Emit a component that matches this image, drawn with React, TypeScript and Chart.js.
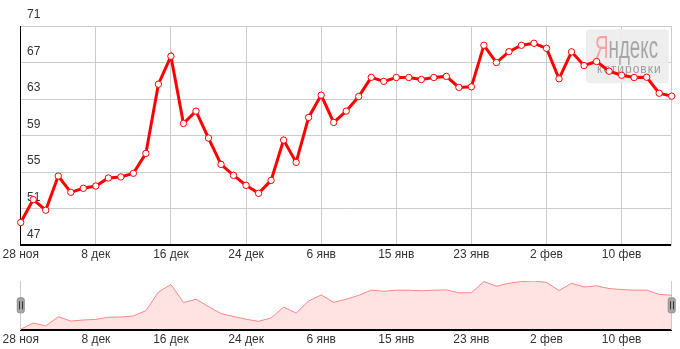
import React, { useEffect, useRef } from 'react';
import { Chart, registerables } from 'chart.js';

Chart.register(...registerables);

// ---- data ----
const tickLabels = ['28 ноя', '8 дек', '16 дек', '24 дек', '6 янв', '15 янв', '23 янв', '2 фев', '10 фев'];
const tickEvery = 6;
const usdRub = [
  49.48, 51.99, 50.83, 54.57, 52.79, 53.23, 53.48, 54.36, 54.47, 54.87,
  57.05, 64.63, 67.69, 60.33, 61.68, 58.73, 55.85, 54.65, 53.56, 52.68,
  54.10, 58.51, 56.07, 60.99, 63.43, 60.44, 61.68, 63.28, 65.38, 64.94,
  65.36, 65.36, 65.14, 65.36, 65.48, 64.28, 64.34, 68.89, 67.00, 68.19,
  68.89, 69.11, 68.56, 65.22, 68.17, 66.67, 67.11, 66.05, 65.61, 65.36,
  65.39, 63.64, 63.32,
];
const yMin = 47;
const yMax = 71;
const yStep = 4;
const brandFirst = 'Я';
const brandRest = 'ндекс';
const brandSub = 'котировки';

const categories = usdRub.map((_, i) => (i % tickEvery === 0 ? tickLabels[i / tickEvery] ?? '' : ''));

const FONT = '"Liberation Sans", Arial, sans-serif';
Chart.defaults.font.family = FONT;
Chart.defaults.color = '#333';

function roundRect(ctx: CanvasRenderingContext2D, x: number, y: number, w: number, h: number, r: number) {
  ctx.beginPath();
  ctx.moveTo(x + r, y);
  ctx.lineTo(x + w - r, y);
  ctx.arcTo(x + w, y, x + w, y + r, r);
  ctx.lineTo(x + w, y + h - r);
  ctx.arcTo(x + w, y + h, x + w - r, y + h, r);
  ctx.lineTo(x + r, y + h);
  ctx.arcTo(x, y + h, x, y + h - r, r);
  ctx.lineTo(x, y + r);
  ctx.arcTo(x, y, x + r, y, r);
  ctx.closePath();
}

const watermark = {
  id: 'watermark',
  beforeDatasetsDraw(chart: any) {
    const { ctx, chartArea } = chart;
    const bx = chartArea.right - 85.7;
    const by = chartArea.top + 3.3;
    const bw = 82.7;
    const bh = 54;
    ctx.save();
    ctx.fillStyle = 'rgba(236,236,236,0.9)';
    roundRect(ctx, bx, by, bw, bh, 4);
    ctx.fill();
    // Яндекс (condensed)
    ctx.font = `31px ${FONT}`;
    ctx.textBaseline = 'alphabetic';
    const full = ctx.measureText(brandFirst + brandRest).width;
    const sx = 63 / full;
    const tx = bx + 9;
    const ty = by + 28.7;
    ctx.translate(tx, ty);
    ctx.scale(sx, 1);
    ctx.fillStyle = '#f6a3a3';
    ctx.fillText(brandFirst, 0, 0);
    const w1 = ctx.measureText(brandFirst).width;
    ctx.fillStyle = '#a6a6a6';
    ctx.fillText(brandRest, w1, 0);
    ctx.restore();
    // котировки
    ctx.save();
    ctx.font = `12px ${FONT}`;
    (ctx as any).letterSpacing = '1px';
    ctx.fillStyle = '#9c9c9c';
    ctx.textBaseline = 'alphabetic';
    ctx.fillText(brandSub, bx + 11, by + 43.3);
    ctx.restore();
  },
};

const handles = {
  id: 'handles',
  afterDraw(chart: any) {
    const { ctx, chartArea } = chart;
    const cy = (chartArea.top + chartArea.bottom) / 2;
    [chartArea.left, chartArea.right].forEach((cx: number) => {
      ctx.save();
      ctx.fillStyle = '#a7a7a7';
      ctx.strokeStyle = '#8e8e8e';
      ctx.lineWidth = 1;
      roundRect(ctx, cx - 3.5, cy - 7.5, 7, 15, 2);
      ctx.fill();
      ctx.stroke();
      ctx.strokeStyle = '#333';
      ctx.beginPath();
      ctx.moveTo(Math.round(cx) - 1.5, cy - 4);
      ctx.lineTo(Math.round(cx) - 1.5, cy + 4);
      ctx.moveTo(Math.round(cx) + 1.5, cy - 4);
      ctx.lineTo(Math.round(cx) + 1.5, cy + 4);
      ctx.stroke();
      ctx.restore();
    });
  },
};

export default function App() {
  const mainRef = useRef<HTMLCanvasElement | null>(null);
  const navRef = useRef<HTMLCanvasElement | null>(null);

  useEffect(() => {
    if (!mainRef.current || !navRef.current) return;

    const main = new Chart(mainRef.current, {
      type: 'line',
      data: {
        labels: categories,
        datasets: [
          {
            data: usdRub,
            borderColor: '#ff0000',
            borderWidth: 3,
            pointRadius: 3.2,
            pointBorderWidth: 1,
            pointBackgroundColor: '#ffffff',
            pointBorderColor: '#ff0000',
            tension: 0,
            fill: false,
          },
        ],
      },
      options: {
        animation: false,
        responsive: false,
        devicePixelRatio: 1,
        layout: { padding: { left: 20.7, right: 8.3, top: 26, bottom: 6.4 } },
        plugins: { legend: { display: false }, tooltip: { enabled: false } },
        scales: {
          x: {
            type: 'category',
            offset: false,
            grid: {
              color: (c: any) => (c.index % tickEvery === 0 ? '#cccccc' : 'rgba(0,0,0,0)'),
              drawTicks: false,
              lineWidth: 1,
            },
            border: { color: '#000', width: 2 },
            ticks: { autoSkip: false, maxRotation: 0, padding: 2, color: '#333', font: { size: 12 } },
          },
          y: {
            min: yMin,
            max: yMax,
            ticks: { stepSize: yStep, mirror: true, padding: 6.3, labelOffset: -11, color: '#333', font: { size: 12 } },
            grid: { color: '#cccccc', drawTicks: false },
            border: { color: '#000', width: 1 },
            afterFit: (s: any) => {
              s.width = 0;
            },
          },
          y2: {
            position: 'right',
            grid: { display: false, drawTicks: false },
            ticks: { display: false },
            border: { color: '#cccccc', width: 1 },
            afterFit: (s: any) => {
              s.width = 0;
            },
          },
        },
      } as any,
      plugins: [watermark],
    });

    const nav = new Chart(navRef.current, {
      type: 'line',
      data: {
        labels: categories,
        datasets: [
          {
            data: usdRub,
            borderColor: '#ff8585',
            borderWidth: 1,
            backgroundColor: 'rgba(255,0,0,0.11)',
            fill: 'start',
            pointRadius: 0,
            tension: 0,
          },
        ],
      },
      options: {
        animation: false,
        responsive: false,
        devicePixelRatio: 1,
        layout: { padding: { left: 20.7, right: 8.3, top: 11, bottom: 0 } },
        plugins: { legend: { display: false }, tooltip: { enabled: false } },
        scales: {
          x: {
            type: 'category',
            offset: false,
            grid: { display: false, drawTicks: false },
            border: { color: '#000', width: 2 },
            ticks: { autoSkip: false, maxRotation: 0, padding: 2.5, color: '#333', font: { size: 12 } },
          },
          y: {
            min: Math.min(...usdRub) - 0.15,
            max: Math.max(...usdRub),
            ticks: { display: false },
            grid: { display: false, drawTicks: false },
            border: { color: '#cccccc', width: 1 },
            afterFit: (s: any) => {
              s.width = 0;
            },
          },
          y2: {
            position: 'right',
            grid: { display: false, drawTicks: false },
            ticks: { display: false },
            border: { color: '#cccccc', width: 1 },
            afterFit: (s: any) => {
              s.width = 0;
            },
          },
        },
      } as any,
      plugins: [handles],
    });

    return () => {
      main.destroy();
      nav.destroy();
    };
  }, []);

  return (
    <div style={{ position: 'absolute', left: 0, top: 0, width: 680, height: 349, background: '#fff', overflow: 'hidden' }}>
      <canvas ref={mainRef} width={680} height={270} style={{ position: 'absolute', left: 0, top: 0, width: 680, height: 270 }} />
      <canvas ref={navRef} width={680} height={79} style={{ position: 'absolute', left: 0, top: 270, width: 680, height: 79 }} />
    </div>
  );
}
